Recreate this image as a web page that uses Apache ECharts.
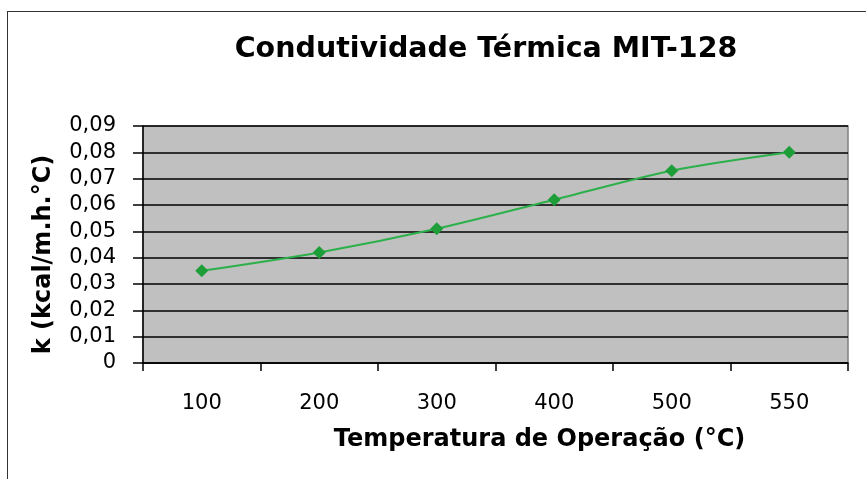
<!DOCTYPE html>
<html>
<head>
<meta charset="utf-8">
<script src="https://cdn.jsdelivr.net/npm/echarts@6/dist/echarts.min.js"></script>
<style>
  html, body { margin: 0; padding: 0; background: #ffffff; overflow: hidden; }
  #frame { position: absolute; left: 7px; top: 11px; width: 900px; height: 520px; border: 1.5px solid #333333; box-sizing: border-box; }
  #chart { position: absolute; left: 0; top: 0; width: 866px; height: 479px; }
</style>
</head>
<body>
<div id="frame"></div>
<div id="chart"></div>
<script>
const categories = ['100', '200', '300', '400', '500', '550'];
const conductivity = [0.035, 0.042, 0.051, 0.062, 0.073, 0.080];
const yMin = 0, yMax = 0.09, yStep = 0.01;
const titleText = 'Condutividade Térmica MIT-128';
const xName = 'Temperatura de Operação (°C)';
const yName = 'k (kcal/m.h.°C)';

const FONT = '"DejaVu Sans", Verdana, sans-serif';
const chart = echarts.init(document.getElementById('chart'), null, { renderer: 'canvas' });
chart.setOption({
  backgroundColor: 'transparent',
  animation: false,
  title: {
    text: titleText,
    left: 481,
    top: 30,
    textAlign: 'center',
    textStyle: { fontFamily: FONT, fontWeight: 'bold', fontSize: 28.5, color: '#000000' }
  },
  grid: {
    left: 143, top: 126, right: 18, bottom: 116,
    show: true, backgroundColor: '#C0C0C0', borderColor: '#808080', borderWidth: 1.5,
    containLabel: false
  },
  xAxis: {
    type: 'category',
    data: categories,
    boundaryGap: true,
    name: xName,
    nameLocation: 'middle',
    nameGap: 65,
    nameTextStyle: { fontFamily: FONT, fontWeight: 'bold', fontSize: 24, color: '#000000', padding: [0, 0, 0, 88] },
    axisLine: { show: true, lineStyle: { color: '#000000', width: 1.5 } },
    axisTick: { show: true, length: 8, lineStyle: { color: '#000000', width: 1.5 } },
    axisLabel: { margin: 30, fontFamily: FONT, fontSize: 21, color: '#000000' },
    splitLine: { show: false }
  },
  yAxis: {
    type: 'value',
    min: yMin, max: yMax, interval: yStep,
    name: yName,
    nameLocation: 'middle',
    nameGap: 87,
    nameRotate: 90,
    nameTextStyle: { fontFamily: FONT, fontWeight: 'bold', fontSize: 24, color: '#000000', padding: [0, 20, 0, 0] },
    axisLine: { show: true, lineStyle: { color: '#000000', width: 1.5 } },
    axisTick: { show: true, length: 10, lineStyle: { color: '#000000', width: 1.5 } },
    axisLabel: {
      margin: 27, fontFamily: FONT, fontSize: 21, color: '#000000',
      formatter: v => v === 0 ? '0' : v.toFixed(2).replace('.', ',')
    },
    splitLine: { show: true, lineStyle: { color: '#000000', width: 1.5 } }
  },
  series: [{
    type: 'line',
    data: conductivity,
    smooth: 0.3,
    symbol: 'diamond',
    symbolSize: 13,
    itemStyle: { color: '#1E9E38' },
    lineStyle: { color: '#2BB04A', width: 2 }
  }]
});
</script>
</body>
</html>
